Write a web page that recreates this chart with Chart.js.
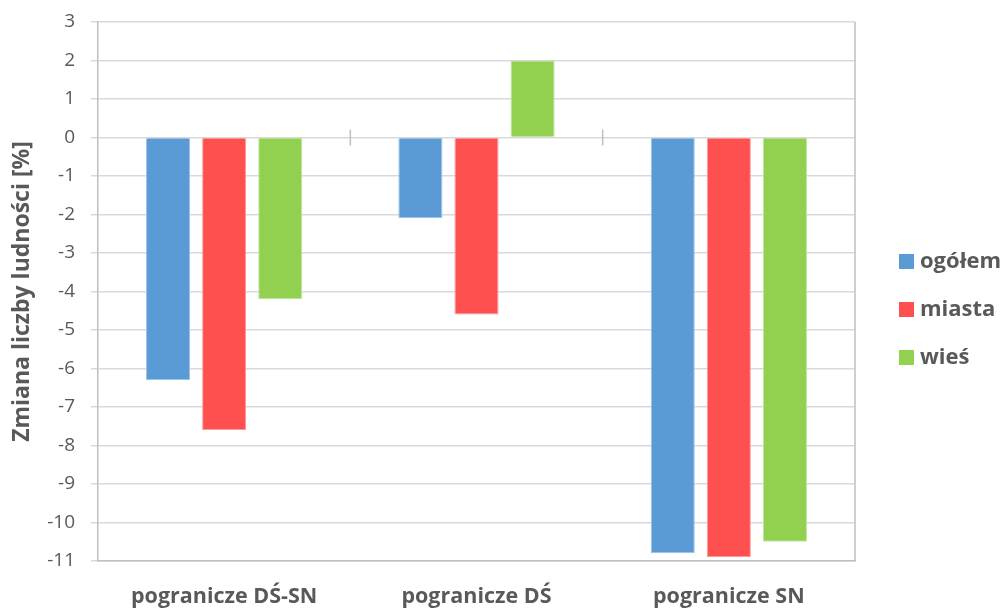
<!DOCTYPE html>
<html><head><meta charset="utf-8">
<script src="https://cdn.jsdelivr.net/npm/chart.js@4.4.1/dist/chart.umd.min.js"></script>
<style>html,body{margin:0;padding:0;background:#fff;}#wrap{width:1003px;height:608px;}</style>
</head><body><div id="wrap"><canvas id="c" width="1003" height="608"></canvas></div>
<script>
const categories = ["pogranicze DŚ-SN", "pogranicze DŚ", "pogranicze SN"];
const seriesNames = ["ogółem", "miasta", "wieś"];
const ogolem = [-6.3, -2.1, -10.8];
const miasta = [-7.6, -4.6, -10.9];
const wies = [-4.2, 2.0, -10.5];
const yMin = -11, yMax = 3;

const FONT = "'Open Sans', sans-serif";
const TXT = "#595959";

const zeroTicks = {
  id: 'zeroTicks',
  afterDatasetsDraw(chart) {
    const {ctx, chartArea: a, scales: {x, y}} = chart;
    const y0 = y.getPixelForValue(0);
    ctx.save();
    ctx.strokeStyle = '#bfbfbf';
    ctx.lineWidth = 1.5;
    for (let i = 0; i < categories.length - 1; i++) {
      const bx = (x.getPixelForValue(i) + x.getPixelForValue(i + 1)) / 2;
      ctx.beginPath(); ctx.moveTo(bx, y0 - 8); ctx.lineTo(bx, y0 + 8); ctx.stroke();
    }
    ctx.beginPath(); ctx.moveTo(a.right, a.top); ctx.lineTo(a.right, a.bottom); ctx.stroke();
    ctx.restore();
  }
};

const sideLegend = {
  id: 'sideLegend',
  afterDraw(chart) {
    const {ctx, chartArea: a} = chart;
    const mid = (a.top + a.bottom) / 2 + 18;
    const step = 48;
    ctx.save();
    ctx.font = "bold 22px " + FONT;
    ctx.textBaseline = 'middle';
    ctx.textAlign = 'left';
    chart.data.datasets.forEach((ds, i) => {
      const cy = mid + (i - 1) * step;
      const bx = a.right + 44;
      ctx.fillStyle = ds.backgroundColor;
      ctx.fillRect(bx, cy - 7.5, 15, 15);
      ctx.fillStyle = TXT;
      ctx.fillText(ds.label, bx + 21, cy);
    });
    ctx.restore();
  }
};

new Chart(document.getElementById('c'), {
  type: 'bar',
  data: {
    labels: categories,
    datasets: [
      {label: seriesNames[0], data: ogolem, backgroundColor: '#5B9BD5', borderColor: '#9cc3e8', borderWidth: 1},
      {label: seriesNames[1], data: miasta, backgroundColor: '#FF5050', borderColor: '#ff9a9a', borderWidth: 1},
      {label: seriesNames[2], data: wies, backgroundColor: '#92D050', borderColor: '#c0e69a', borderWidth: 1}
    ]
  },
  options: {
    responsive: false,
    animation: false,
    devicePixelRatio: 1,
    categoryPercentage: 0.667,
    barPercentage: 0.786,
    layout: {padding: {top: 22, left: 0, right: 148, bottom: 0}},
    plugins: {
      tooltip: {enabled: false},
      legend: {display: false}
    },
    scales: {
      x: {
        grid: {display: false, drawTicks: false},
        border: {display: true, color: '#bfbfbf', width: 1.5},
        ticks: {color: TXT, padding: 23, font: {family: FONT, size: 21.5, weight: 'bold'}},
        afterFit(s) { s.height = 47; }
      },
      y: {
        min: yMin, max: yMax,
        ticks: {stepSize: 1, color: TXT, padding: 16, font: {family: FONT, size: 19}},
        grid: {color: '#d9d9d9', lineWidth: 1.5, tickLength: 7, tickColor: '#d9d9d9'},
        border: {display: true, color: '#bfbfbf', width: 1.5},
        title: {display: true, text: 'Zmiana liczby ludności [%]', color: TXT, padding: {top: 9, bottom: 0}, font: {family: FONT, size: 23, weight: 'bold'}},
        afterFit(s) { s.width = 98; s.paddingTop = 0; s.paddingBottom = 0; }
      }
    }
  },
  plugins: [zeroTicks, sideLegend]
});
</script>
</body></html>
